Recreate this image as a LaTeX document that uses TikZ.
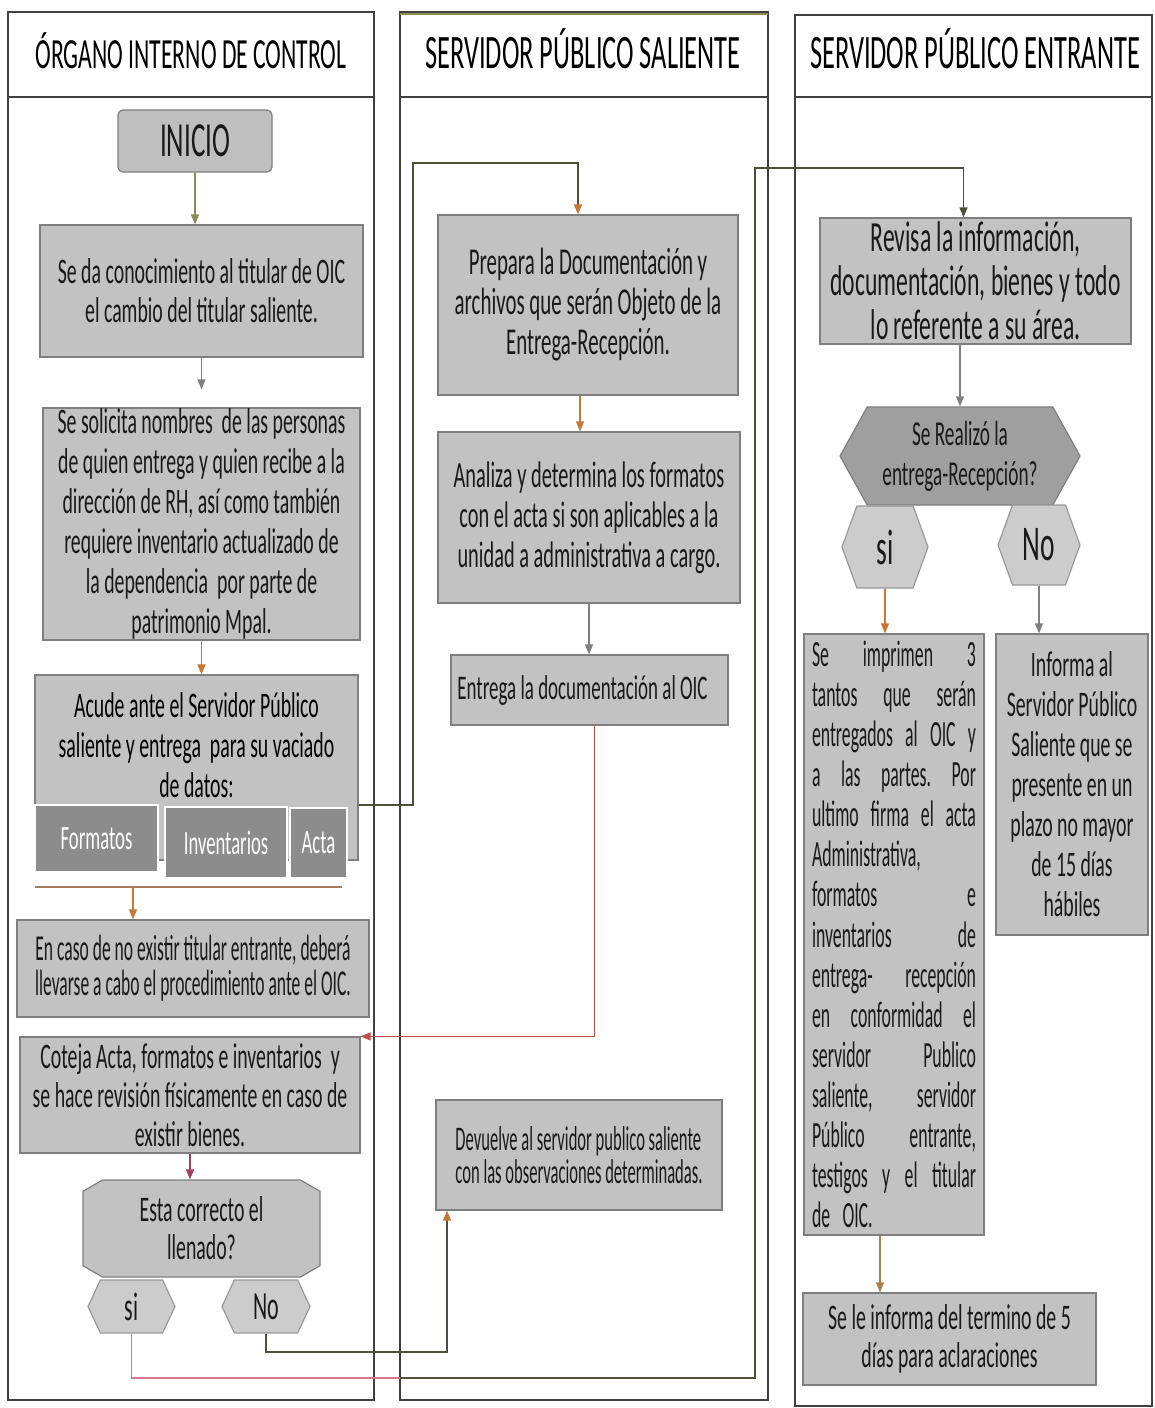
\documentclass[tikz,border=0pt]{standalone}
\usepackage{fontspec}
\setmainfont{Carlito}[FakeStretch=0.55]
\newfontfamily\narrowfont{Carlito}[FakeStretch=0.48]
\usetikzlibrary{shapes,arrows,arrows.meta,positioning}

\definecolor{boxgray}{HTML}{C2C2C2}
\definecolor{boxline}{HTML}{7F7F7F}
\definecolor{docgray}{HTML}{8C8C8C}
\definecolor{arrowolive}{HTML}{8A8A55}
\definecolor{arroworange}{HTML}{C87832}
\definecolor{arrowred}{HTML}{C0504D}
\definecolor{linepink}{HTML}{D07A8A}
\definecolor{linedark}{HTML}{4F4F3A}

\newcommand{\txtsize}[2]{\fontsize{#1}{#2}\selectfont}
\newcommand{\jline}[1]{\makebox[164pt][s]{#1}}

\tikzstyle{lane} = [draw=black!75, line width=1.3pt]
\tikzstyle{hdr} = [anchor=base, font=\txtsize{48}{50}]
\tikzstyle{proc} = [rectangle, draw=boxline, fill=boxgray, line width=1.2pt, inner sep=0pt, align=center, text=black!90]
\tikzstyle{start} = [proc, rounded corners=5pt, fill=gray!50]
\tikzstyle{decide} = [chamfered rectangle, chamfered rectangle corners={north west,south west,north east,south east}, draw=boxline, fill=boxgray, line width=1.2pt, inner sep=0pt, align=center, text=black!90]
\tikzstyle{choice} = [signal, signal to=east and west, draw=boxline!80, fill=gray!40, line width=1.2pt, inner sep=0pt, align=center, text=black!90]
\tikzstyle{doc} = [rectangle, draw=white, fill=docgray, line width=2.5pt, inner sep=2pt, text=white, font=\txtsize{34}{36}]
\tikzstyle{arrow} = [line width=1.2pt, ->, >={Triangle[length=10pt,width=8pt]}]
\tikzstyle{link} = [line width=1.3pt]

\begin{document}
\begin{tikzpicture}[x=1pt,y=-1pt]
\useasboundingbox (0,0) rectangle (1154,1408);

% carriles
\draw[lane] (8,12) rectangle (374,1400);
\draw[lane] (8,97) -- (374,97);
\draw[lane] (400,12) rectangle (768,1400);
\draw[lane] (400,97) -- (768,97);
\draw[draw=arrowolive, line width=1.5pt] (400,14) -- (768,14);
\draw[lane] (795,15) rectangle (1152,1406);
\draw[lane] (795,97) -- (1152,97);

\node[hdr, font=\txtsize{43}{45}] (hdrA) at (191,68) {ÓRGANO INTERNO DE CONTROL};
\node[hdr] (hdrB) at (583,68) {SERVIDOR PÚBLICO SALIENTE};
\node[hdr] (hdrC) at (975,68) {SERVIDOR PÚBLICO ENTRANTE};

% organo interno de control
\node[start, minimum width=154, minimum height=62, font=\txtsize{49}{50}] (inicio) at (195,141) {INICIO};
\node[proc, minimum width=323, minimum height=132, font=\txtsize{36}{39}] (conoc) at (201.5,291) {Se da conocimiento al titular de OIC\\el cambio del titular saliente.};
\node[proc, minimum width=317, minimum height=232, font=\txtsize{36}{40}] (solic) at (201.5,524) {Se solicita nombres~ de las personas\\de quien entrega y quien recibe a la\\dirección de RH, así como también\\requiere inventario actualizado de\\la dependencia~ por parte de\\patrimonio Mpal.};
\node[proc, minimum width=323, minimum height=185] (acude) at (196.5,767.5) {};
\node[font=\txtsize{36}{40}, align=center] (acudetxt) at (196.5,745) {Acude ante el Servidor Público\\saliente y entrega~ para su vaciado\\de datos:};
\node[doc, minimum width=123, minimum height=67] (formatos) at (96.5,838.5) {Formatos};
\node[doc, minimum width=122, minimum height=71] (invent) at (226,842.5) {Inventarios};
\node[doc, minimum width=57, minimum height=70] (acta) at (318.5,843) {Acta};
\coordinate (grpL) at (35,887);
\coordinate (grpR) at (342,887);
\coordinate (grpA) at (133,887);
\draw[link, draw=arroworange!50!gray] (grpL) -- (grpR);
\node[proc, minimum width=352, minimum height=97, font=\narrowfont\txtsize{36.5}{35}] (encaso) at (193,968.5) {En caso de no existir titular entrante, deberá\\llevarse a cabo el procedimiento ante el OIC.};
\node[proc, minimum width=340, minimum height=116, font=\txtsize{36}{39}] (coteja) at (190,1095) {Coteja Acta, formatos e inventarios~ y\\se hace revisión físicamente en caso de\\existir bienes.};
\node[decide, minimum width=237, minimum height=97, chamfered rectangle xsep=14pt, chamfered rectangle angle=60, font=\txtsize{36}{38}] (dec1) at (201.5,1228.5) {Esta correcto el\\llenado?};
\node[choice, minimum width=87, minimum height=53, signal pointer angle=130, font=\txtsize{40}{40}] (si1) at (131.5,1306.5) {si};
\node[choice, minimum width=88, minimum height=53, signal pointer angle=130, font=\txtsize{40}{40}] (no1) at (266,1306.5) {No};

% servidor publico saliente
\node[proc, minimum width=300, minimum height=180, font=\txtsize{38}{40}] (prep) at (588,305) {Prepara la Documentación y\\archivos que serán Objeto de la\\Entrega-Recepción.};
\node[proc, minimum width=302, minimum height=171, font=\txtsize{37}{40}] (anal) at (589,517.5) {Analiza y determina los formatos\\con el acta si son aplicables a la\\unidad a administrativa a cargo.};
\node[proc, minimum width=277, minimum height=70, font=\txtsize{34.5}{40}] (entr) at (589.5,690) {Entrega la documentación al OIC\hspace*{14pt}};
\node[proc, minimum width=286, minimum height=110, align=left, font=\narrowfont\txtsize{34.5}{33}] (devu) at (579,1155) {Devuelve al servidor publico saliente\\con las observaciones determinadas.};

% servidor publico entrante
\node[proc, minimum width=311, minimum height=126, font=\txtsize{43}{44}] (revi) at (975.5,281) {Revisa la información,\\documentación, bienes y todo\\lo referente a su área.};
\node[choice, minimum width=240, minimum height=98, signal pointer angle=122, fill=gray!75, draw=boxline, font=\txtsize{35}{40}] (dec2) at (960,456) {Se Realizó la\\entrega-Recepción?};
\node[choice, minimum width=86, minimum height=82, signal pointer angle=140, font=\txtsize{50}{50}] (si2) at (885,547) {si};
\node[choice, minimum width=82, minimum height=80, signal pointer angle=140, font=\txtsize{50}{50}] (no2) at (1039,545) {No};
\node[proc, minimum height=601, text width=164, align=left, inner xsep=8, font=\narrowfont\txtsize{37}{40.1}] (impr) at (894,934.5) {\jline{Se\hfill imprimen\hfill 3}\\\jline{tantos\hfill que\hfill serán}\\\jline{entregados\hfill al\hfill OIC\hfill y}\\\jline{a\hfill las\hfill partes.\hfill Por}\\\jline{ultimo\hfill firma\hfill el\hfill acta}\\Administrativa,\\\jline{formatos\hfill e}\\\jline{inventarios\hfill de}\\\jline{entrega-\hfill recepción}\\\jline{en\hfill conformidad\hfill el}\\\jline{servidor\hfill Publico}\\\jline{saliente,\hfill servidor}\\\jline{Público\hfill entrante,}\\\jline{testigos\hfill y\hfill el\hfill titular}\\de OIC.};
\node[proc, minimum width=152, minimum height=301, font=\txtsize{36}{40}] (info) at (1072,784.5) {Informa al\\Servidor Público\\Saliente que se\\presente en un\\plazo no mayor\\de 15 días\\hábiles};
\node[proc, minimum width=293, minimum height=92, font=\txtsize{36}{38}] (plazo) at (949.5,1339) {Se le informa del termino de 5\\días para aclaraciones};

% conectores
\coordinate (bendA) at (413,163);
\coordinate (laneB) at (400,1378);
\coordinate (bendB) at (755,1378);
\coordinate (bendC) at (755,168);
\coordinate (bendD) at (447,1352);

\draw[arrow, draw=arrowolive] (inicio.south) -- (inicio.south |- conoc.north);
\draw[arrow, draw=gray, shorten >=18pt] (conoc.south) -- (conoc.south |- solic.north);
\draw[arrow, draw=arroworange] (solic.south) -- (solic.south |- acude.north);
\draw[arrow, draw=arroworange] (grpA) -- (grpA |- encaso.north);
\draw[link, draw=linedark, -{Triangle[length=10pt,width=8pt,color=arroworange]}] ([yshift=-37.5pt]acude.east) -| (bendA) -| ([xshift=-10pt]prep.north);
\draw[arrow, draw=arroworange] ([xshift=-8pt]prep.south) -- ([xshift=-8pt]prep.south |- anal.north);
\draw[arrow, draw=gray] (anal.south) -- (anal.south |- entr.north);
\draw[arrow, draw=arrowred] ([xshift=5pt]entr.south) |- (coteja.north east);
\draw[arrow, draw=purple!50!gray] (coteja.south) -- (coteja.south |- dec1.north);
\draw[link, draw=linepink] (si1.south) |- (laneB);
\draw[arrow, draw=linedark] (laneB) -- (bendB) -- (bendC) -| ([xshift=-12pt]revi.north);
\draw[link, draw=linedark, -{Triangle[length=10pt,width=8pt,color=arroworange]}] (no1.south) |- (bendD) -- (bendD |- devu.south);
\draw[arrow, draw=gray] (dec2.north |- revi.south) -- (dec2.north);
\draw[arrow, draw=arroworange] (si2.south) -- (si2.south |- impr.north);
\draw[arrow, draw=gray] (no2.south) -- (no2.south |- info.north);
\draw[arrow, draw=brown!70!gray] ([xshift=-14pt]impr.south) -- ([xshift=-14pt]impr.south |- plazo.north);
\end{tikzpicture}
\end{document}
